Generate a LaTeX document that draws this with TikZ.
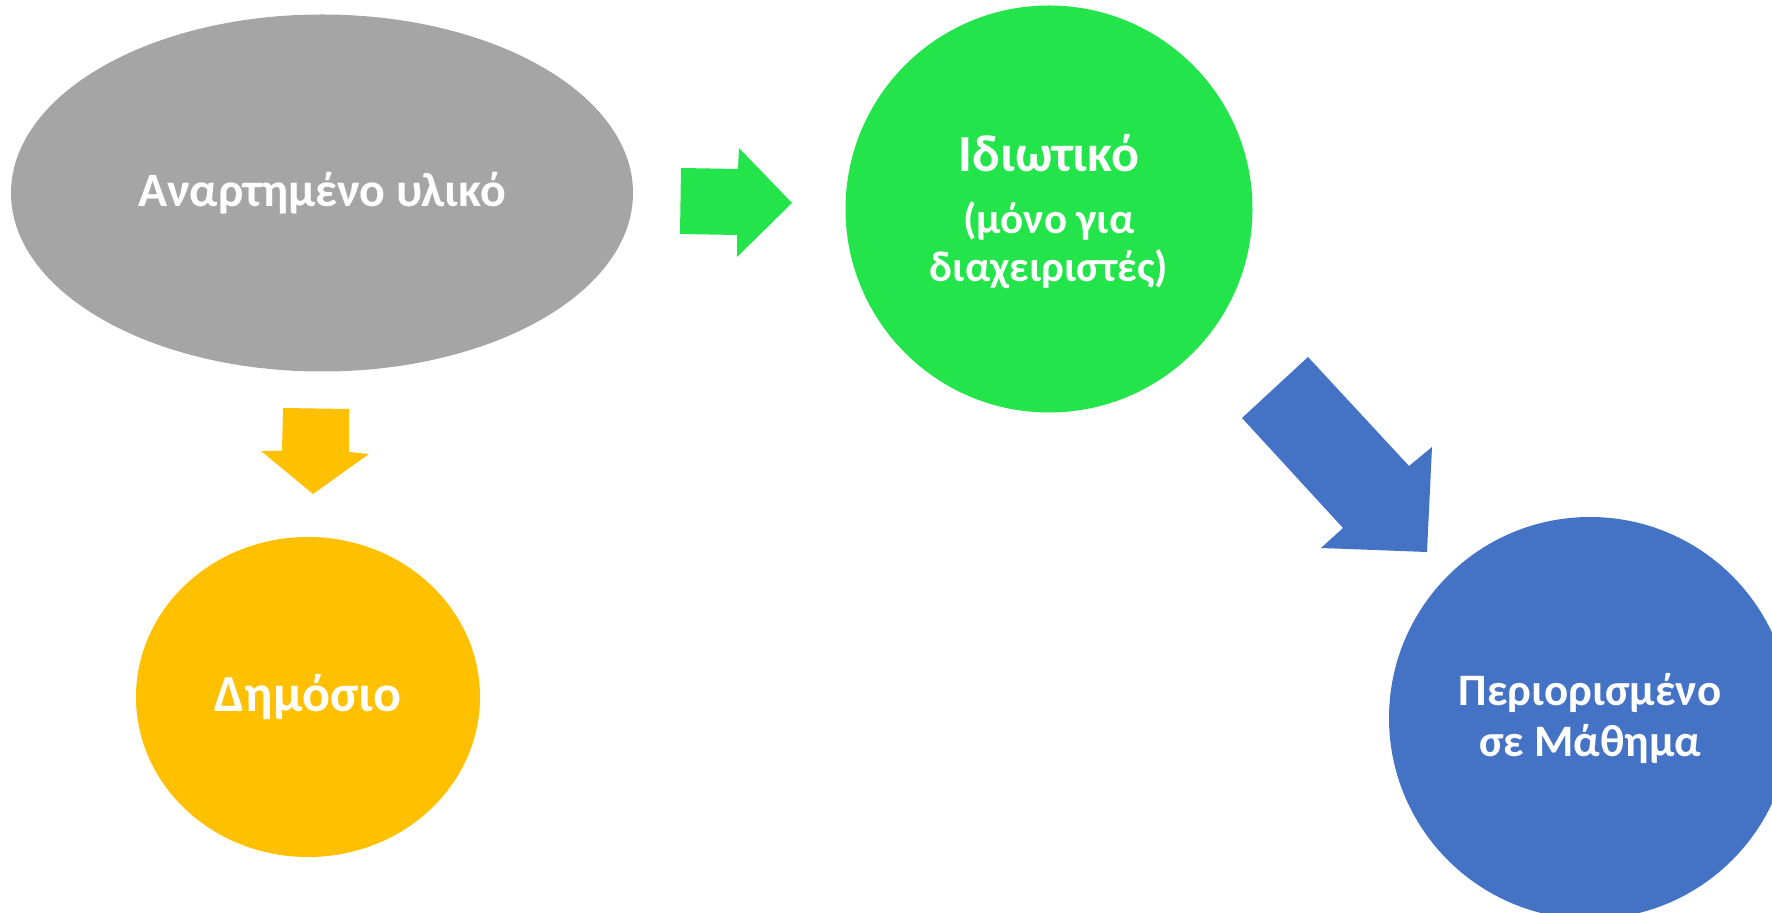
\documentclass[tikz,border=0pt]{standalone}
\usepackage{fontspec}
\setmainfont{Carlito}
\usepackage{tikz}
\usetikzlibrary{shapes}
\definecolor{grayfill}{HTML}{A5A5A5}
\definecolor{greenfill}{HTML}{23E44B}
\definecolor{yellowfill}{HTML}{FFC000}
\definecolor{bluefill}{HTML}{4472C4}

\begin{document}
\begin{tikzpicture}[x=0.5pt,y=-0.5pt,
  blob/.style={inner sep=0pt,text=white,font=\bfseries\fontsize{22}{27}\selectfont,align=center}]

\useasboundingbox (0,0) rectangle (1772,913);
\clip (0,0) rectangle (1772,913);

\node [blob, ellipse, fill=grayfill, minimum width=311pt, minimum height=178.5pt,
  font=\bfseries\fontsize{24}{29}\selectfont] (posted) at (322,193) {Αναρτημένο υλικό};
\node [blob, circle, fill=greenfill, minimum size=203.5pt] (private) at (1049,209) {};
\node [blob, ellipse, fill=yellowfill, minimum width=172pt, minimum height=160pt,
  font=\bfseries\fontsize{26}{31}\selectfont] (public) at (308,697) {Δημόσιο};
\node [blob, circle, fill=bluefill, minimum size=201pt,
  font=\bfseries\fontsize{22.5}{25.5}\selectfont] (course) at (1590,718) {Περιορισμένο\\σε Μάθημα};

\node [blob, anchor=base, font=\bfseries\fontsize{26}{31}\selectfont] (privtitle) at (1049,172) {Ιδιωτικό};
\node [blob, font=\bfseries\fontsize{21.5}{24.3}\selectfont] (privnote) at (1049,245) {(μόνο για\\διαχειριστές)};

%\draw (posted) -- (private);
\fill [greenfill] (681,168) -- (738,169) -- (739,148) -- (792,203) -- (737,257) -- (737,235) -- (680,234) -- cycle;
\fill [yellowfill] (283,408) -- (349,409) -- (349,452) -- (369,454) -- (313,494) -- (261,451) -- (282,451) -- cycle;
\fill [bluefill] (1308,357) -- (1409,466) -- (1432,447) -- (1427,552) -- (1321,548) -- (1343,528) -- (1242,418) -- cycle;

\end{tikzpicture}
\end{document}
